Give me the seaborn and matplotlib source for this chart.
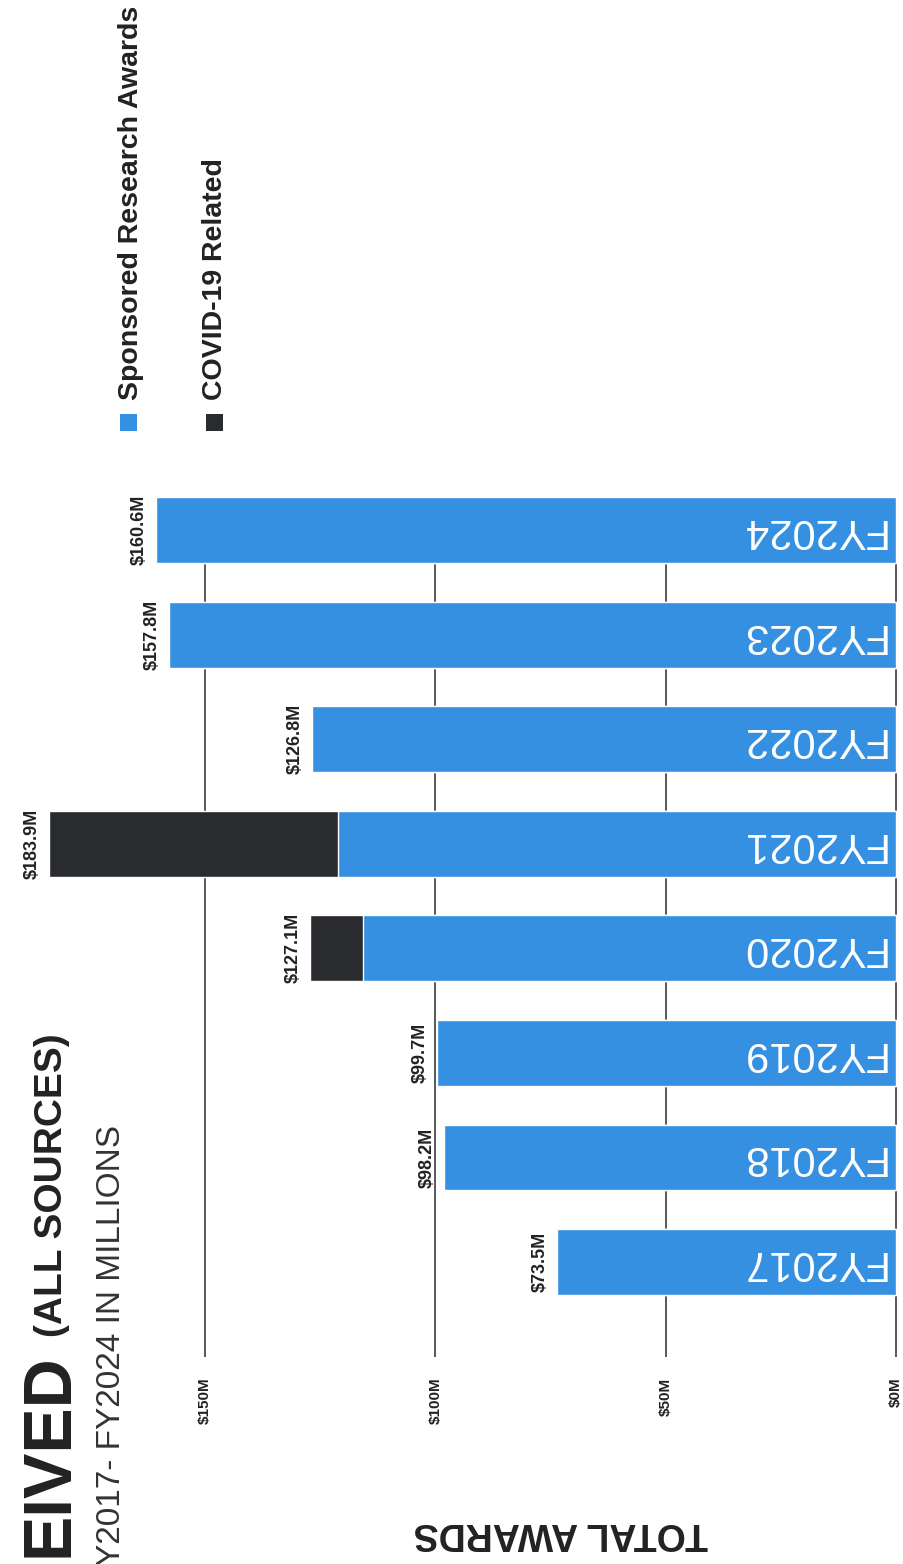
import matplotlib
matplotlib.use("Agg")
import matplotlib.pyplot as plt
import seaborn as sns
from matplotlib.patches import Rectangle

# Data
years = ["FY2017", "FY2018", "FY2019", "FY2020", "FY2021", "FY2022", "FY2023", "FY2024"]
sponsored = [73.5, 98.2, 99.7, 115.7, 121.2, 126.8, 157.8, 160.6]
covid = [0, 0, 0, 11.4, 62.7, 0, 0, 0]
tick_vals = [0, 50, 100, 150]
tick_labels = ["$0M", "$50M", "$100M", "$150M"]

totals = [s + c for s, c in zip(sponsored, covid)]
order = years[::-1]

BLUE = "#3590E2"
DARK = "#2A2B2E"
INK = "#222222"
W, H = 904, 1564

sns.set_style("white")
plt.rcParams["font.family"] = ["Liberation Sans", "DejaVu Sans"]


def fx(px):
    return px / W


def fy(py):
    return 1 - py / H


fig = plt.figure(figsize=(W / 100, H / 100), dpi=100)
fig.patch.set_facecolor("white")

# axes: value axis runs right-to-left, categories top-to-bottom (page is on its side)
ax = fig.add_axes([0, fy(1357), 1, (1357 - 497) / H])

sns.barplot(x=totals, y=years, order=order, orient="h", color=DARK,
            saturation=1, width=0.63, ax=ax)
sns.barplot(x=sponsored, y=years, order=order, orient="h", color=BLUE,
            saturation=1, width=0.63, ax=ax)

px_per = (896 - 205) / 150
ax.set_xlim(896 / px_per, -(W - 896) / px_per)
ax.set_ylim(7.908, -0.3156)

ax.set_xticks(tick_vals)
ax.set_xticklabels(tick_labels, rotation=90, fontweight="bold", fontsize=11, color=INK)
ax.tick_params(axis="x", length=0, pad=15)
ax.tick_params(axis="y", left=False, labelleft=False)
ax.set_xlabel("")
ax.set_ylabel("")
ax.grid(axis="x", color="#3c3c3c", linewidth=1.2)
ax.grid(axis="y", visible=False)
ax.set_axisbelow(True)
for s in ax.spines.values():
    s.set_visible(False)

# bar labels
for yr, tot in zip(years, totals):
    i = order.index(yr)
    ax.text(tot + 1.8, i, f"${tot:.1f}M", rotation=90, ha="right", va="center",
            fontsize=13, fontweight="bold", color=INK)
    ax.text(2.4, i, yr, rotation=180, ha="right", va="center",
            fontsize=30, color="white")

# title pieces
fig.text(fx(50), fy(1353), "EIVED", rotation=90, ha="center", va="top",
         fontsize=49, fontweight="bold", color=INK)
fig.text(fx(52), fy(1337), "(ALL SOURCES)", rotation=90, ha="center", va="bottom",
         fontsize=28, fontweight="bold", color=INK)
fig.text(fx(112), fy(1125), "Y2017- FY2024 IN MILLIONS", rotation=90, ha="center", va="top",
         fontsize=24, color="#333333")

# value axis title
fig.text(fx(561), fy(1533), "TOTAL AWARDS", rotation=180, ha="center", va="center",
         fontsize=27, fontweight="bold", color=INK)

# legend
fig.patches.append(Rectangle((fx(120), fy(431)), 17 / W, 17 / H, transform=fig.transFigure,
                             facecolor=BLUE, edgecolor="none"))
fig.patches.append(Rectangle((fx(206), fy(431)), 17 / W, 17 / H, transform=fig.transFigure,
                             facecolor=DARK, edgecolor="none"))
fig.text(fx(131), fy(400), "Sponsored Research Awards", rotation=90, ha="center", va="bottom",
         fontsize=20.5, fontweight="bold", color=INK)
fig.text(fx(215), fy(400), "COVID-19 Related", rotation=90, ha="center", va="bottom",
         fontsize=20.5, fontweight="bold", color=INK)

fig.savefig("out.png", dpi=100, facecolor="white")
